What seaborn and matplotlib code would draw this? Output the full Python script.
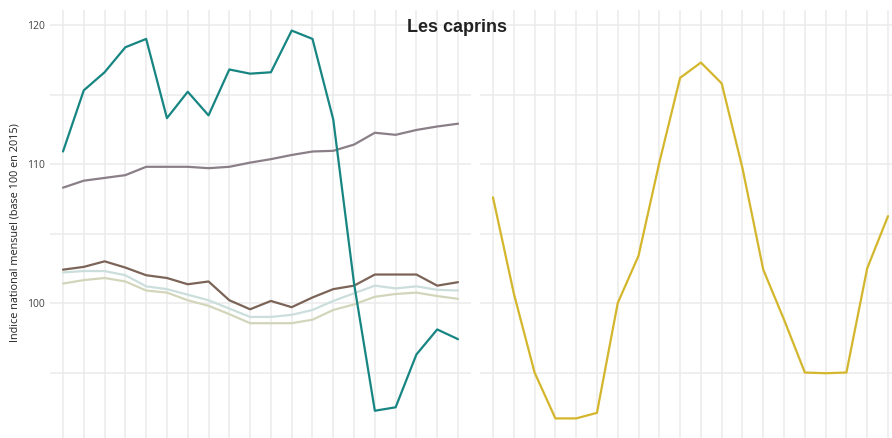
import numpy as np
import pandas as pd
import matplotlib
matplotlib.use("Agg")
import matplotlib.pyplot as plt
import seaborn as sns
from matplotlib.ticker import MultipleLocator

# mois (20 points par panneau)
mois = list(range(20))

# panneau de gauche
teal = [110.9, 115.3, 116.6, 118.4, 119.0, 113.3, 115.2, 113.5, 116.8, 116.5,
        116.6, 119.6, 119.0, 113.2, 101.4, 92.25, 92.5, 96.3, 98.1, 97.4]
mauve = [108.3, 108.8, 109.0, 109.2, 109.8, 109.8, 109.8, 109.7, 109.8, 110.1,
         110.35, 110.65, 110.9, 110.95, 111.4, 112.25, 112.1, 112.45, 112.7, 112.9]
brun = [102.4, 102.6, 103.0, 102.55, 102.0, 101.8, 101.35, 101.55, 100.2, 99.55,
        100.15, 99.7, 100.4, 101.0, 101.25, 102.05, 102.05, 102.05, 101.25, 101.5]
gris_bleu = [102.2, 102.3, 102.3, 102.0, 101.2, 101.0, 100.6, 100.2, 99.6, 99.0,
             99.0, 99.15, 99.5, 100.15, 100.7, 101.25, 101.05, 101.2, 100.95, 100.9]
beige = [101.4, 101.65, 101.8, 101.55, 100.9, 100.75, 100.2, 99.8, 99.2, 98.55,
         98.55, 98.55, 98.8, 99.5, 99.9, 100.45, 100.65, 100.75, 100.5, 100.3]

# panneau de droite
jaune = [107.6, 100.7, 95.0, 91.7, 91.7, 92.1, 100.0, 103.4, 110.1, 116.2,
         117.3, 115.8, 109.7, 102.4, 98.8, 95.0, 94.95, 95.0, 102.5, 106.25]

gauche = pd.DataFrame({
    "mois": mois * 5,
    "indice": beige + gris_bleu + brun + mauve + teal,
    "serie": ["beige"] * 20 + ["gris_bleu"] * 20 + ["brun"] * 20 + ["mauve"] * 20 + ["teal"] * 20,
})
droite = pd.DataFrame({"mois": mois, "indice": jaune, "serie": ["jaune"] * 20})

palette = {
    "beige": "#d3d5bb",
    "gris_bleu": "#cbdedb",
    "brun": "#7b6457",
    "mauve": "#8a7f87",
    "teal": "#178582",
    "jaune": "#d4b62c",
}

sns.set_style("white")
plt.rcParams["font.family"] = ["Open Sans", "DejaVu Sans"]

W, H = 892, 438
fig = plt.figure(figsize=(W / 100, H / 100), dpi=100)
ax1 = fig.add_axes([50 / W, 0, 421 / W, 428 / H])
ax2 = fig.add_axes([480 / W, 0, 421 / W, 428 / H])

sns.lineplot(data=gauche, x="mois", y="indice", hue="serie", palette=palette,
             hue_order=["beige", "gris_bleu", "brun", "mauve", "teal"],
             linewidth=1.6, legend=False, ax=ax1)
sns.lineplot(data=droite, x="mois", y="indice", hue="serie", palette=palette,
             linewidth=1.6, legend=False, ax=ax2)

for ax in (ax1, ax2):
    ax.set_xlim(-0.625, 19.625)
    ax.set_ylim(90.29, 121.08)
    ax.xaxis.set_major_locator(MultipleLocator(1))
    ax.yaxis.set_major_locator(MultipleLocator(10))
    ax.yaxis.set_minor_locator(MultipleLocator(5))
    ax.grid(True, which="major", color="#ebebeb", linewidth=1.1)
    ax.grid(True, which="minor", axis="y", color="#ebebeb", linewidth=1.1)
    ax.set_axisbelow(True)
    for s in ax.spines.values():
        s.set_visible(False)
    ax.tick_params(axis="x", length=0, labelbottom=False)
    ax.tick_params(axis="y", which="both", length=0)
    ax.set_xlabel("")
    ax.set_ylabel("")

ax1.tick_params(axis="y", labelsize=7.5, labelcolor="#444444", pad=4)
ax2.tick_params(axis="y", labelleft=False)
ax1.set_ylabel("Indice national mensuel (base 100 en 2015)", fontsize=7.8,
               color="#222222")
ax1.yaxis.set_label_coords(-29 / 421, (438 - 233) / 428)

fig.text(457 / W, 1 - 27 / H, "Les caprins", ha="center", va="center",
         fontsize=13, fontweight="bold", color="#222222",
         family=["Liberation Sans", "DejaVu Sans"])

fig.savefig("out.png", dpi=100)
